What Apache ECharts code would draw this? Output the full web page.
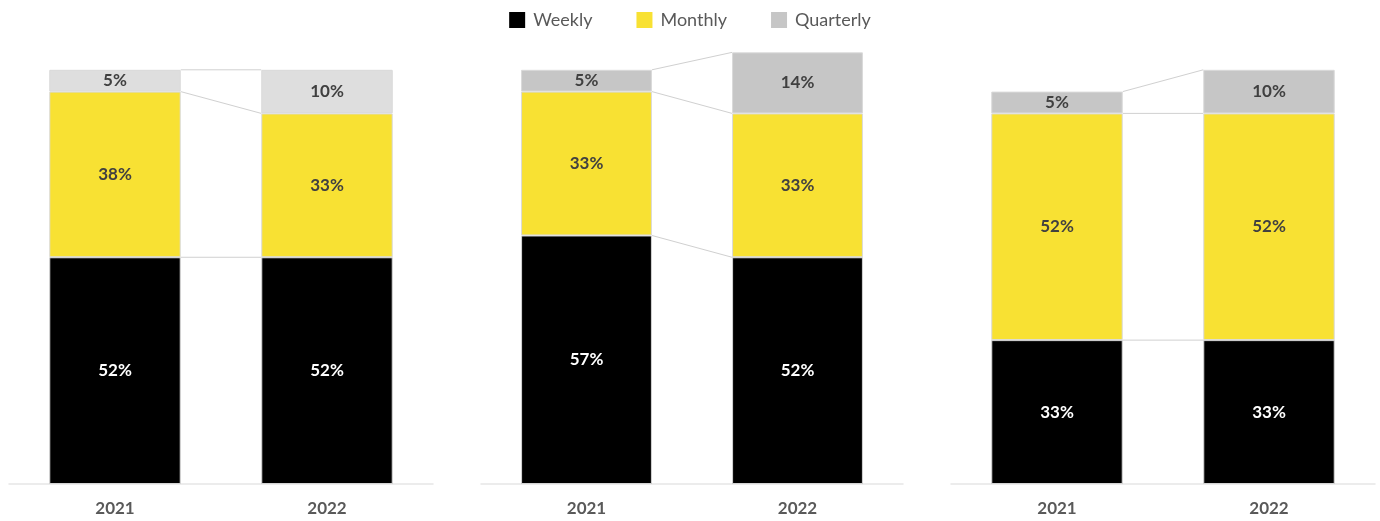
<!DOCTYPE html>
<html>
<head>
<meta charset="utf-8">
<script src="https://cdn.jsdelivr.net/npm/echarts@6/dist/echarts.min.js"></script>
<style>
  html, body { margin: 0; padding: 0; background: #ffffff; }
  #chart { width: 1380px; height: 521px; }
</style>
</head>
<body>
<div id="chart"></div>
<script>
// Survey frequency shares, three panels of 2021 vs 2022
const years = ['2021', '2022'];
const seriesNames = ['Weekly', 'Monthly', 'Quarterly'];

const panel1Weekly = [52, 52];
const panel1Monthly = [38, 33];
const panel1Quarterly = [5, 10];

const panel2Weekly = [57, 52];
const panel2Monthly = [33, 33];
const panel2Quarterly = [5, 14];

const panel3Weekly = [33, 33];
const panel3Monthly = [52, 52];
const panel3Quarterly = [5, 10];

const panels = [
  { weekly: panel1Weekly, monthly: panel1Monthly, quarterly: panel1Quarterly, quarterColor: '#dedede' },
  { weekly: panel2Weekly, monthly: panel2Monthly, quarterly: panel2Quarterly, quarterColor: '#c6c6c6' },
  { weekly: panel3Weekly, monthly: panel3Monthly, quarterly: panel3Quarterly, quarterColor: '#c6c6c6' }
];

const FONT = 'Lato, "DejaVu Sans", sans-serif';
const BAR_RATIO = 0.62;

const gridBoxes = [
  { left: 9, width: 424 },
  { left: 481, width: 422 },
  { left: 951, width: 424 }
];

const grids = gridBoxes.map(g => ({ left: g.left, width: g.width, top: 48, bottom: 37 }));

const xAxes = gridBoxes.map((g, i) => ({
  type: 'category',
  gridIndex: i,
  data: years,
  axisLine: { show: true, lineStyle: { color: '#e6e6e6', width: 1.5 } },
  axisTick: { show: false },
  axisLabel: { color: '#595959', fontFamily: FONT, fontWeight: 'bold', fontSize: 17, margin: 16 }
}));

const yAxes = gridBoxes.map((g, i) => ({
  type: 'value',
  gridIndex: i,
  min: 0,
  max: 100,
  show: false,
  splitLine: { show: false }
}));

function barLabel(color) {
  return {
    show: true,
    position: 'inside',
    color: color,
    fontFamily: FONT,
    fontWeight: 'bold',
    fontSize: 17,
    formatter: p => p.value + '%'
  };
}

const series = [];
panels.forEach((p, i) => {
  const stack = 'panel' + i;
  const common = {
    type: 'bar',
    xAxisIndex: i,
    yAxisIndex: i,
    stack: stack,
    barWidth: (BAR_RATIO * 100) + '%',
    z: 3
  };
  series.push(Object.assign({}, common, {
    name: 'Weekly', data: p.weekly,
    itemStyle: { color: '#000000', borderColor: '#d4d4d4', borderWidth: 1 },
    label: barLabel('#ffffff')
  }));
  series.push(Object.assign({}, common, {
    name: 'Monthly', data: p.monthly,
    itemStyle: { color: '#f8e133', borderColor: '#d9d9d9', borderWidth: 1 },
    label: barLabel('#404040')
  }));
  series.push(Object.assign({}, common, {
    name: 'Quarterly', data: p.quarterly,
    itemStyle: { color: p.quarterColor, borderColor: '#d9d9d9', borderWidth: 1 },
    label: barLabel('#404040')
  }));

  // connector lines between the tops of matching segments
  const levels = [];
  let c0 = 0, c1 = 0;
  [p.weekly, p.monthly, p.quarterly].forEach(arr => {
    c0 += arr[0];
    c1 += arr[1];
    levels.push([0, c0, c1]);
  });
  series.push({
    type: 'custom',
    xAxisIndex: i,
    yAxisIndex: i,
    silent: true,
    z: 2,
    encode: { x: 0, y: 1 },
    data: levels,
    renderItem: function (params, api) {
      const band = api.size([1, 0])[0];
      const half = band * BAR_RATIO / 2;
      const a = api.coord([0, api.value(1)]);
      const b = api.coord([1, api.value(2)]);
      return {
        type: 'line',
        shape: { x1: a[0] + half, y1: a[1], x2: b[0] - half, y2: b[1] },
        style: { stroke: '#d0d0d0', lineWidth: 1 }
      };
    }
  });
});

const chart = echarts.init(document.getElementById('chart'), null, { renderer: 'canvas' });
chart.setOption({
  animation: false,
  backgroundColor: '#ffffff',
  legend: {
    top: 6,
    left: 'center',
    itemWidth: 16,
    itemHeight: 16,
    itemGap: 44,
    icon: 'rect',
    textStyle: { color: '#595959', fontFamily: FONT, fontSize: 18, padding: [0, 0, 0, 3] },
    data: [
      { name: 'Weekly', itemStyle: { color: '#000000', borderWidth: 0 } },
      { name: 'Monthly', itemStyle: { color: '#f8e133', borderWidth: 0 } },
      { name: 'Quarterly', itemStyle: { color: '#c6c6c6', borderWidth: 0 } }
    ]
  },
  grid: grids,
  xAxis: xAxes,
  yAxis: yAxes,
  series: series
});
</script>
</body>
</html>
